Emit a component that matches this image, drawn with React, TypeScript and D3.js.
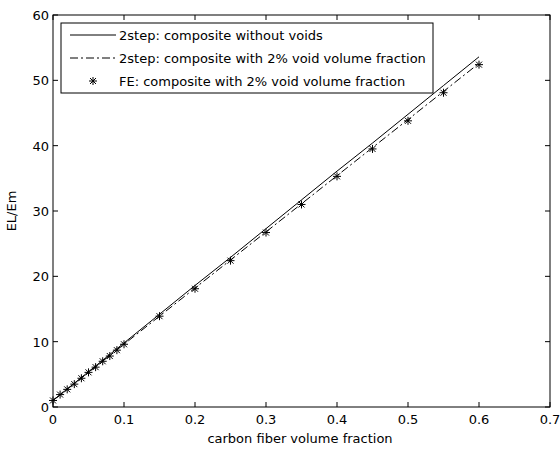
import React from "react";
import * as d3 from "d3";

const lineX = [0, 0.05, 0.1, 0.15, 0.2, 0.25, 0.3, 0.35, 0.4, 0.45, 0.5, 0.55, 0.6];
const noVoids = [1, 5.4, 9.8, 14.2, 18.6, 22.9, 27.3, 31.7, 36.1, 40.4, 44.8, 49.2, 53.6];
const withVoids = [1, 5.3, 9.6, 13.9, 18.2, 22.5, 26.8, 31.1, 35.4, 39.7, 44.0, 48.3, 52.6];
const feX = [0, 0.01, 0.02, 0.03, 0.04, 0.05, 0.06, 0.07, 0.08, 0.09, 0.1, 0.15, 0.2, 0.25, 0.3, 0.35, 0.4, 0.45, 0.5, 0.55, 0.6];
const feY = [1, 1.9, 2.7, 3.5, 4.4, 5.3, 6.1, 7.0, 7.8, 8.7, 9.6, 13.9, 18.1, 22.4, 26.7, 31.0, 35.3, 39.5, 43.8, 48.1, 52.4];
const xTicks = [0, 0.1, 0.2, 0.3, 0.4, 0.5, 0.6, 0.7];
const yTicks = [0, 10, 20, 30, 40, 50, 60];
const legendLabels = [
  "2step: composite without voids",
  "2step: composite with 2% void volume fraction",
  "FE: composite with 2% void volume fraction",
];

const W = 560, H = 449;
const L = 53, R = 550, T = 15, B = 407;
const font = "'DejaVu Sans', sans-serif";

function Star({ x, y, s = 4 }: { x: number; y: number; s?: number }) {
  const d = s * 0.75;
  return (
    <g stroke="#000" strokeWidth={1}>
      <line x1={x - s} y1={y} x2={x + s} y2={y} />
      <line x1={x} y1={y - s} x2={x} y2={y + s} />
      <line x1={x - d} y1={y - d} x2={x + d} y2={y + d} />
      <line x1={x - d} y1={y + d} x2={x + d} y2={y - d} />
    </g>
  );
}

export default function App() {
  const x = d3.scaleLinear().domain([0, 0.7]).range([L, R]);
  const y = d3.scaleLinear().domain([0, 60]).range([B, T]);
  const line = d3.line<number>().x((_, i) => x(lineX[i])).y((d) => y(d));
  const tl = 5;
  const lx = 61, ly = 23, lw = 372, lh = 70;
  const fs = 13;
  return (
    <svg width={W} height={H} style={{ position: "absolute", left: 0, top: 0 }} fontFamily={font}>
      <rect x={0} y={0} width={W} height={H} fill="#fff" />
      <path d={line(noVoids) || ""} fill="none" stroke="#000" strokeWidth={1} />
      <path d={line(withVoids) || ""} fill="none" stroke="#000" strokeWidth={1} strokeDasharray="8,3,2,3" />
      {feX.map((v, i) => (
        <Star key={i} x={x(v)} y={y(feY[i])} />
      ))}
      <rect x={L} y={T} width={R - L} height={B - T} fill="none" stroke="#000" strokeWidth={1} />
      {xTicks.map((t) => (
        <g key={"x" + t}>
          <line x1={x(t)} y1={B} x2={x(t)} y2={B - tl} stroke="#000" />
          <line x1={x(t)} y1={T} x2={x(t)} y2={T + tl} stroke="#000" />
          <text x={x(t)} y={B + 17} fontSize={fs} textAnchor="middle" fill="#000">{t}</text>
        </g>
      ))}
      {yTicks.map((t) => (
        <g key={"y" + t}>
          <line x1={L} y1={y(t)} x2={L + tl} y2={y(t)} stroke="#000" />
          <line x1={R} y1={y(t)} x2={R - tl} y2={y(t)} stroke="#000" />
          <text x={L - 4} y={y(t) + 5} fontSize={fs} textAnchor="end" fill="#000">{t}</text>
        </g>
      ))}
      <text x={300} y={443} fontSize={fs} textAnchor="middle" fill="#000">carbon fiber volume fraction</text>
      <text transform={`translate(16,${(T + B) / 2}) rotate(-90)`} fontSize={fs} textAnchor="middle" fill="#000">EL/Em</text>
      <rect x={lx} y={ly} width={lw} height={lh} fill="#fff" stroke="#000" strokeWidth={1} />
      {legendLabels.map((lab, i) => {
        const cy = ly + 12 + i * 23;
        return (
          <g key={lab}>
            {i === 0 && <line x1={70} y1={cy} x2={116} y2={cy} stroke="#000" />}
            {i === 1 && <line x1={70} y1={cy} x2={116} y2={cy} stroke="#000" strokeDasharray="8,3,2,3" />}
            {i === 2 && <Star x={93} y={cy} />}
            <text x={119} y={cy + 5} fontSize={fs} fill="#000">{lab}</text>
          </g>
        );
      })}
    </svg>
  );
}
